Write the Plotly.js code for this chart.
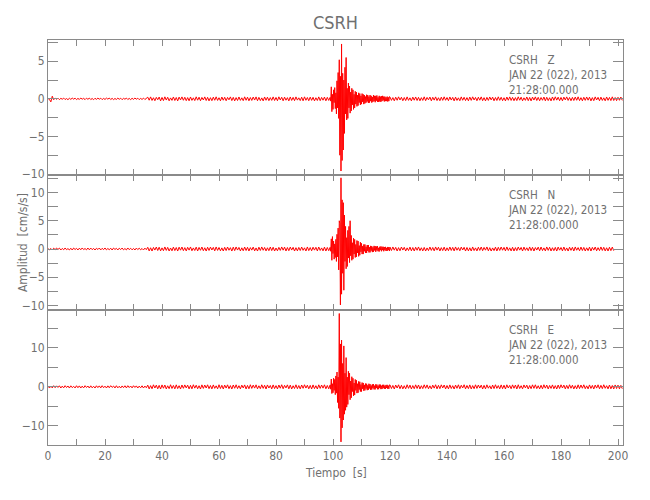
<!DOCTYPE html>
<html>
<head>
<meta charset="utf-8">
<script src="https://cdn.plot.ly/plotly-3.0.1.min.js"></script>
<style>html,body{margin:0;padding:0;background:#fff;}#chart{width:650px;height:500px;}</style>
</head>
<body>
<div id="chart"></div>
<script>
// ---- Data (cm/s/s) ----
// Pre-event segment: 0.5 s sampling starting at 0 s
// Event segment: 0.2 s sampling starting at 99 s
// Post-event segment: 0.5 s sampling starting at 120 s
const preStart = 0, preStep = 0.5;
const evStart = 99, evStep = 0.2;
const postStart = 120, postStep = 0.5;

const stationLabels = ["CSRH\u00a0\u00a0\u00a0Z", "CSRH\u00a0\u00a0\u00a0N", "CSRH\u00a0\u00a0\u00a0E"];
const dateLabel = "JAN 22 (022), 2013";
const timeLabel = "21:28:00.000";

const zPre = [.05,-.08,-.4,.35,-.12,.1,-.06,.09,-.1,.07,
-.05,.1,-.09,.04,-.11,.08,-.07,.1,-.04,.09,
-.1,.06,-.08,.11,-.05,.07,-.1,.09,-.06,.1,
-.09,.05,-.11,.08,-.07,.1,-.05,.09,-.1,.06,
-.08,.1,-.04,.11,-.09,.07,-.1,.05,-.08,.1,
-.06,.09,-.11,.07,-.05,.1,-.09,.06,-.1,.08,
-.07,.11,-.05,.09,-.1,.06,-.08,.1,-.09,.07,
.22,-.18,.26,-.21,.15,-.25,.2,-.12,.24,-.27,
.19,-.23,.27,-.16,.21,-.26,.13,-.2,.25,-.22,
.18,-.27,.23,-.14,.26,-.19,.21,-.24,.17,-.26,
.25,-.2,.14,-.23,.27,-.18,.22,-.25,.19,-.15,
.26,-.22,.2,-.27,.16,-.24,.23,-.19,.27,-.21,
.15,-.26,.24,-.18,.21,-.25,.19,-.13,.26,-.23,
.2,-.27,.17,-.22,.25,-.2,.14,-.24,.27,-.19,
.22,-.26,.18,-.21,.24,-.16,.26,-.25,.2,-.23,
.13,-.27,.25,-.19,.22,-.24,.17,-.2,.26,-.22,
.19,-.25,.27,-.15,.21,-.26,.23,-.18,.16,-.27,
.25,-.21,.2,-.24,.26,-.17,.14,-.23,.22,-.26,
.27,-.19,.18,-.25,.23,-.2,.21,-.27,.15,-.22,
.26,-.24,.19,-.18,.24,-.26,.2,-.21];
const zEvent = [0.2,-0.3,1.6,-1.7,0.6,-1.4,1.2,-0.5,1.5,-1.3,
0.8,-2.0,2.4,-1.2,3.5,-2.6,5.2,-7.5,3.0,-9.6,
7.3,-8.2,3.4,-6.8,2.5,-4.6,4.2,-2.0,5.5,-2.8,
1.4,-2.6,2.1,-1.2,1.7,-1.9,0.9,-1.6,1.4,-0.8,
1.2,-1.4,0.6,-1.2,1.0,-0.7,0.9,-1.0,0.5,-0.9,
0.8,-0.5,0.7,-0.8,0.4,-0.7,0.7,-0.4,0.6,-0.7,
0.5,-0.6,0.3,-0.5,0.55,-0.35,0.5,-0.55,0.3,-0.5,
0.5,-0.3,0.4,-0.5,0.25,-0.4,0.5,-0.3,0.4,-0.45,
0.4,-0.25,0.45,-0.4,0.2,-0.4,0.4,-0.35,0.3,-0.4,
0.35,-0.3,0.4,-0.2,0.3,-0.35,0.3,-0.3,0.2,-0.3,
0.3,-0.35,0.2,-0.3,0.3];
const zPost = [.24,-.2,.17,-.26,.22,-.19,.27,-.15,.21,-.25,
.18,-.23,.26,-.2,.14,-.27,.23,-.18,.25,-.22,
.2,-.26,.16,-.21,.27,-.24,.19,-.13,.24,-.26,
.21,-.17,.26,-.23,.15,-.25,.22,-.2,.27,-.19,
.18,-.24,.25,-.16,.2,-.27,.23,-.21,.14,-.25,
.26,-.19,.21,-.23,.17,-.26,.24,-.2,.27,-.15,
.19,-.25,.22,-.18,.26,-.24,.16,-.27,.2,-.21,
.25,-.14,.23,-.26,.18,-.22,.27,-.2,.21,-.24,
.15,-.27,.24,-.19,.26,-.21,.2,-.25,.17,-.23,
.27,-.18,.22,-.26,.14,-.2,.25,-.24,.19,-.27,
.23,-.16,.26,-.22,.2,-.25,.18,-.19,.24,-.26,
.21,-.23,.15,-.27,.25,-.2,.27,-.17,.22,-.24,
.19,-.26,.23,-.14,.26,-.21,.18,-.25,.2,-.22,
.24,-.19,.27,-.23,.16,-.26,.21,-.2,.25,-.18,
.22,-.27,.17,-.24,.26,-.15,.2,-.25,.23,-.21,
.14,-.26,.25,-.2,.19,-.23,.27,-.22,.18,-.24,
.21,-.19,.24,-.2];

const nPre = [.12,-.16,.09,-.18,.14,-.11,.17,-.08,.15,-.17,
.1,-.14,.18,-.12,.07,-.16,.13,-.18,.16,-.09,
.11,-.17,.15,-.13,.18,-.1,.08,-.15,.17,-.14,
.16,-.12,.1,-.18,.13,-.09,.17,-.16,.12,-.11,
.18,-.15,.09,-.13,.14,-.18,.16,-.08,.11,-.17,
.15,-.1,.17,-.14,.08,-.16,.18,-.12,.13,-.15,
.1,-.18,.16,-.11,.14,-.13,.09,-.17,.15,-.12,
.3,-.34,.22,-.36,.28,-.19,.35,-.27,.31,-.33,
.2,-.3,.36,-.25,.29,-.35,.18,-.32,.34,-.28,
.26,-.36,.32,-.21,.35,-.29,.24,-.34,.3,-.2,
.36,-.31,.19,-.27,.33,-.35,.28,-.23,.35,-.3,
.22,-.36,.31,-.26,.34,-.18,.29,-.33,.36,-.25,
.27,-.32,.2,-.35,.3,-.28,.35,-.22,.24,-.36,
.33,-.29,.36,-.19,.28,-.34,.21,-.31,.35,-.27,
.3,-.35,.25,-.2,.34,-.33,.19,-.36,.32,-.26,
.36,-.23,.27,-.34,.22,-.3,.35,-.28,.31,-.36,
.18,-.32,.29,-.25,.36,-.21,.33,-.35,.26,-.3,
.34,-.19,.3,-.36,.23,-.33,.28,-.27,.35,-.24,
.21,-.35,.36,-.29,.26,-.31,.32,-.2,.3,-.34,
.35,-.26,.19,-.33,.34,-.36,.27,-.3];
const nEvent = [0.3,-0.4,1.8,-2.0,2.2,-0.8,1.4,-1.8,0.9,-1.5,
1.7,-2.2,2.6,-1.4,3.7,-3.7,5.0,4.5,-9.9,12.6,
-8.0,8.7,-4.3,8.2,-7.3,6.0,-2.2,4.0,-3.5,2.0,
-3.1,3.3,-1.6,4.0,-2.4,5.0,-1.2,2.4,-2.0,1.1,
-1.8,1.9,-0.9,1.7,-1.5,0.8,-1.4,1.5,-0.7,1.4,
-1.3,0.6,-1.1,1.2,-0.5,1.0,-0.9,0.5,-0.9,0.8,
-0.4,0.8,-0.7,0.4,-0.7,0.7,-0.35,0.7,-0.6,0.3,
-0.6,0.55,-0.3,0.5,-0.55,0.3,-0.5,0.55,-0.25,0.5,
-0.5,0.45,-0.25,0.5,-0.4,0.2,-0.45,0.4,-0.2,0.45,
-0.4,0.4,-0.2,0.4,-0.4,0.35,-0.2,0.38,-0.35,0.2,
-0.35,0.36,-0.2,0.34,-0.36];
const nPost = [.33,-.27,.36,-.21,.29,-.35,.24,-.31,.35,-.19,
.3,-.36,.2,-.28,.34,-.32,.26,-.35,.31,-.23,
.36,-.3,.22,-.34,.28,-.36,.19,-.29,.35,-.25,
.27,-.33,.36,-.2,.31,-.35,.24,-.28,.33,-.36,
.21,-.3,.35,-.26,.29,-.34,.36,-.22,.25,-.31,
.34,-.18,.3,-.36,.27,-.33,.22,-.35,.36,-.28,
.2,-.34,.32,-.25,.35,-.3,.28,-.21,.36,-.32,
.24,-.36,.19,-.29,.33,-.35,.3,-.26,.35,-.22,
.29,-.33,.36,-.27,.21,-.34,.31,-.36,.25,-.3,
.35,-.2,.28,-.35,.34,-.24,.22,-.31,.36,-.29,
.3,-.36,.26,-.19,.33,-.32,.35,-.28,.2,-.34,
.36,-.25,.31,-.35,.23,-.3,.29,-.36,.34,-.21,
.27,-.33,.35,-.29,.19,-.36,.32,-.24,.3,-.35,
.36,-.22,.25,-.31,.34,-.27,.28,-.35,.21,-.3,
.33,-.36,.29,-.2,.35,-.32,.24,-.28,.36,-.26,
.3,-.34,.22,-.35,.31,-.29,.34,-.3];

const ePre = [.24,-.3,.18,-.27,.3,-.21,.26,-.15,.28,-.29,
.2,-.25,.3,-.17,.23,-.3,.27,-.2,.14,-.28,
.29,-.22,.25,-.3,.19,-.26,.3,-.16,.22,-.29,
.27,-.24,.15,-.3,.28,-.19,.25,-.27,.3,-.21,
.18,-.29,.26,-.23,.3,-.14,.21,-.28,.29,-.25,
.16,-.3,.24,-.2,.28,-.27,.3,-.18,.22,-.26,
.29,-.15,.25,-.3,.19,-.24,.27,-.29,.2,-.23,
.45,-.52,.32,-.48,.53,-.3,.44,-.5,.38,-.54,
.5,-.35,.47,-.53,.28,-.46,.54,-.41,.36,-.5,
.52,-.44,.3,-.53,.48,-.37,.5,-.27,.45,-.52,
.39,-.5,.54,-.33,.42,-.48,.29,-.54,.51,-.4,
.47,-.3,.53,-.46,.35,-.52,.5,-.38,.27,-.5,
.54,-.43,.4,-.53,.46,-.31,.52,-.47,.33,-.54,
.48,-.36,.53,-.45,.3,-.51,.44,-.28,.5,-.53,
.37,-.49,.54,-.4,.45,-.32,.52,-.5,.28,-.46,
.53,-.38,.41,-.54,.49,-.3,.36,-.52,.5,-.44,
.32,-.53,.47,-.35,.54,-.48,.39,-.27,.51,-.5,
.45,-.54,.29,-.42,.53,-.47,.34,-.52,.48,-.37,
.54,-.31,.43,-.5,.38,-.53,.5,-.45,.3,-.54,
.52,-.4,.47,-.33,.53,-.49,.36,-.5];
const eEvent = [0.5,-0.6,2.0,-1.7,0.8,-1.5,2.2,-0.9,1.9,-2.0,
2.8,-1.6,3.8,-4.0,2.5,-5.5,18.8,-8.0,11.0,-14.1,
12.0,-10.5,6.0,-8.5,10.5,-7.0,3.5,-6.0,7.5,-5.2,
2.5,-4.5,4.0,-2.0,3.5,-3.3,1.5,-2.8,2.6,-1.2,
2.2,-2.3,1.0,-2.1,1.9,-0.9,1.7,-1.6,0.8,-1.5,
1.4,-0.7,1.3,-1.2,0.6,-1.2,1.1,-0.5,1.0,-1.0,
0.5,-0.9,0.85,-0.45,0.8,-0.85,0.4,-0.75,0.8,-0.4,
0.7,-0.75,0.35,-0.7,0.65,-0.35,0.7,-0.65,0.3,-0.65,
0.65,-0.3,0.6,-0.62,0.3,-0.6,0.6,-0.3,0.57,-0.58,
0.3,-0.56,0.52,-0.3,0.54,-0.5,0.3,-0.52,0.5,-0.3,
0.52,-0.5,0.3,-0.5,0.5];
const ePost = [.5,-.43,.36,-.54,.47,-.3,.53,-.48,.4,-.52,
.29,-.5,.54,-.38,.45,-.53,.33,-.47,.52,-.41,
.48,-.54,.3,-.45,.53,-.36,.5,-.49,.27,-.52,
.44,-.33,.54,-.5,.39,-.46,.52,-.28,.47,-.53,
.35,-.51,.5,-.42,.3,-.54,.46,-.37,.53,-.48,
.41,-.29,.54,-.52,.36,-.45,.5,-.53,.32,-.47,
.53,-.4,.48,-.31,.45,-.54,.38,-.5,.52,-.35,
.28,-.53,.47,-.44,.54,-.39,.33,-.51,.5,-.46,
.42,-.54,.53,-.3,.37,-.48,.51,-.36,.46,-.53,
.54,-.42,.3,-.5,.49,-.27,.44,-.54,.35,-.47,
.52,-.38,.53,-.45,.29,-.52,.41,-.5,.54,-.33,
.46,-.53,.36,-.4,.5,-.48,.32,-.54,.47,-.43,
.53,-.29,.45,-.51,.38,-.46,.54,-.36,.42,-.53,
.31,-.5,.52,-.44,.48,-.35,.53,-.47,.27,-.52,
.5,-.41,.37,-.54,.46,-.32,.53,-.49,.4,-.45,
.54,-.37,.3,-.52,.47,-.5,.35,-.53,.49,-.43,
.45,-.5,.38,-.47];

// ---- Build traces ----
function build(pre, ev, post) {
  const x = [], y = [];
  pre.forEach((v, i) => { const t = preStart + i * preStep; if (t < evStart) { x.push(t); y.push(v); } });
  ev.forEach((v, i) => { const t = evStart + i * evStep; if (t < postStart) { x.push(t); y.push(v); } });
  post.forEach((v, i) => { x.push(postStart + i * postStep); y.push(v); });
  return {x, y};
}
const comps = [build(zPre, zEvent, zPost), build(nPre, nEvent, nPost), build(ePre, eEvent, ePost)];
const axSuffix = ['', '2', '3'];
const traces = comps.map((c, k) => ({
  type: 'scatter', mode: 'lines', x: c.x, y: c.y,
  xaxis: 'x' + axSuffix[k], yaxis: 'y' + axSuffix[k],
  line: {color: '#ff0000', width: 1}, hoverinfo: 'skip'
}));

const FONT = '"DejaVu Sans Condensed", "Liberation Sans Narrow", sans-serif';
const GREY = '#8a8a8a';
const TXT = '#707070';

function xax(anchor, showLabels) {
  return {
    anchor: anchor, range: [0, 201.75], dtick: 20, tick0: 0,
    ticks: 'inside', ticklen: 6, tickcolor: GREY, tickwidth: 1,
    minor: {dtick: 10, ticks: 'inside', ticklen: 6, tickcolor: GREY},
    showline: true, linecolor: GREY, linewidth: 1, mirror: 'ticks',
    showgrid: false, zeroline: false, showticklabels: showLabels,
    tickfont: {family: FONT, size: 12, color: TXT}
  };
}
function yax(domain, range, dtick, minor, anchor) {
  return {
    anchor: anchor, domain: domain, range: range, dtick: dtick, tick0: 0,
    ticks: 'inside', ticklen: 10, tickcolor: GREY, tickwidth: 1,
    minor: {dtick: minor, ticks: 'inside', ticklen: 10, tickcolor: GREY},
    showline: true, linecolor: GREY, linewidth: 1, mirror: 'ticks',
    showgrid: false, zeroline: false,
    tickfont: {family: FONT, size: 12, color: TXT}
  };
}

const annotations = [];
const yRefs = ['y domain', 'y2 domain', 'y3 domain'];
const xRefs = ['x domain', 'x2 domain', 'x3 domain'];
for (let k = 0; k < 3; k++) {
  annotations.push({
    text: [stationLabels[k], dateLabel, timeLabel].join('<br>'),
    xref: xRefs[k], yref: yRefs[k], x: 0.797, y: 0.741,
    xanchor: 'left', yanchor: 'middle', align: 'left', showarrow: false,
    font: {family: FONT, size: 11.5, color: TXT}
  });
}
annotations.push({text: 'Tiempo\u00a0\u00a0[s]', xref: 'paper', yref: 'paper', x: 0.5, y: -0.068,
  xanchor: 'center', yanchor: 'middle', showarrow: false, font: {family: FONT, size: 12, color: TXT}});
annotations.push({text: 'Amplitud\u00a0\u00a0[cm/s/s]', xref: 'paper', yref: 'paper', x: -0.0443, y: 0.5,
  xanchor: 'center', yanchor: 'middle', textangle: -90, showarrow: false, font: {family: FONT, size: 12, color: TXT}});

const layout = {
  width: 650, height: 500,
  margin: {l: 48, r: 27, t: 40, b: 55},
  paper_bgcolor: '#ffffff', plot_bgcolor: '#ffffff',
  showlegend: false, hovermode: false,
  title: {text: 'CSRH', x: 0.5, xref: 'paper', y: 0.954, yref: 'container', yanchor: 'middle',
          font: {family: FONT, size: 18, color: TXT}},
  xaxis: xax('y', false), xaxis2: xax('y2', false), xaxis3: xax('y3', true),
  yaxis: yax([2/3, 1], [-10.13, 7.83], 5, 2.5, 'x'),
  yaxis2: yax([1/3, 2/3], [-10.8, 13.1], 5, 2.5, 'x2'),
  yaxis3: yax([0, 1/3], [-14.9, 19.7], 10, 5, 'x3'),
  annotations: annotations
};

Plotly.newPlot('chart', traces, layout, {staticPlot: true, displayModeBar: false});
</script>
</body>
</html>
